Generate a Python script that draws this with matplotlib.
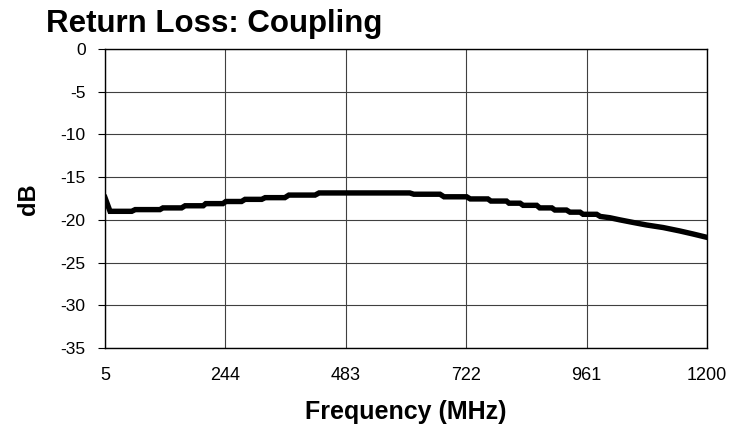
import matplotlib
matplotlib.use("Agg")
import matplotlib.pyplot as plt

plt.rcParams['font.family'] = ['Liberation Sans', 'DejaVu Sans']

freq_mhz = [5, 15, 58, 65, 114, 120, 157, 164, 200, 205, 239, 245, 276, 283, 316, 323,
            362, 370, 422, 430, 610, 618, 670, 678, 723, 730, 765, 771, 802, 807, 829,
            835, 862, 868, 892, 898, 921, 928, 948, 954, 981, 988, 1007, 1027, 1053,
            1080, 1113, 1146, 1172, 1200]
return_loss_db = [-17.4, -19.0, -19.0, -18.8, -18.8, -18.6, -18.6, -18.35, -18.35, -18.1,
                  -18.1, -17.85, -17.85, -17.6, -17.6, -17.4, -17.4, -17.1, -17.1, -16.85,
                  -16.85, -17.0, -17.0, -17.3, -17.3, -17.55, -17.55, -17.8, -17.8, -18.05,
                  -18.05, -18.3, -18.3, -18.6, -18.6, -18.85, -18.85, -19.1, -19.1, -19.35,
                  -19.35, -19.6, -19.75, -20.0, -20.3, -20.6, -20.9, -21.3, -21.65, -22.05]

x_ticks = [5, 244, 483, 722, 961, 1200]
y_ticks = [0, -5, -10, -15, -20, -25, -30, -35]

title = "Return Loss: Coupling"
x_label = "Frequency (MHz)"
y_label = "dB"

fig = plt.figure(figsize=(7.44, 4.30), dpi=100)
ax = fig.add_axes([105/744, 1-348/430, (707-105)/744, (348-49)/430])

ax.plot(freq_mhz, return_loss_db, color='black', lw=3.9, solid_joinstyle='miter')

ax.set_xlim(5, 1200)
ax.set_ylim(-35, 0)
ax.set_xticks(x_ticks)
ax.set_yticks(y_ticks)
ax.set_xticklabels([str(v) for v in x_ticks])
ax.set_yticklabels([str(v) for v in y_ticks])
ax.grid(True, color='#404040', lw=0.8)
ax.set_axisbelow(True)
for s in ax.spines.values():
    s.set_color('black')
    s.set_linewidth(1.0)

ax.tick_params(axis='y', direction='out', length=5, width=0.8, pad=9, labelsize=12.5)
ax.tick_params(axis='x', length=0, pad=14, labelsize=13)

fig.text(46/744, 1-32/430, title, fontsize=22.5, fontweight='bold', ha='left', va='baseline')
fig.text(406/744, 1-419/430, x_label, fontsize=18, fontweight='bold', ha='center', va='baseline')
fig.text(28/744, 1-199/430, y_label, fontsize=17, fontweight='bold', ha='center', va='center', rotation=90)

fig.savefig("out.png", dpi=100)
